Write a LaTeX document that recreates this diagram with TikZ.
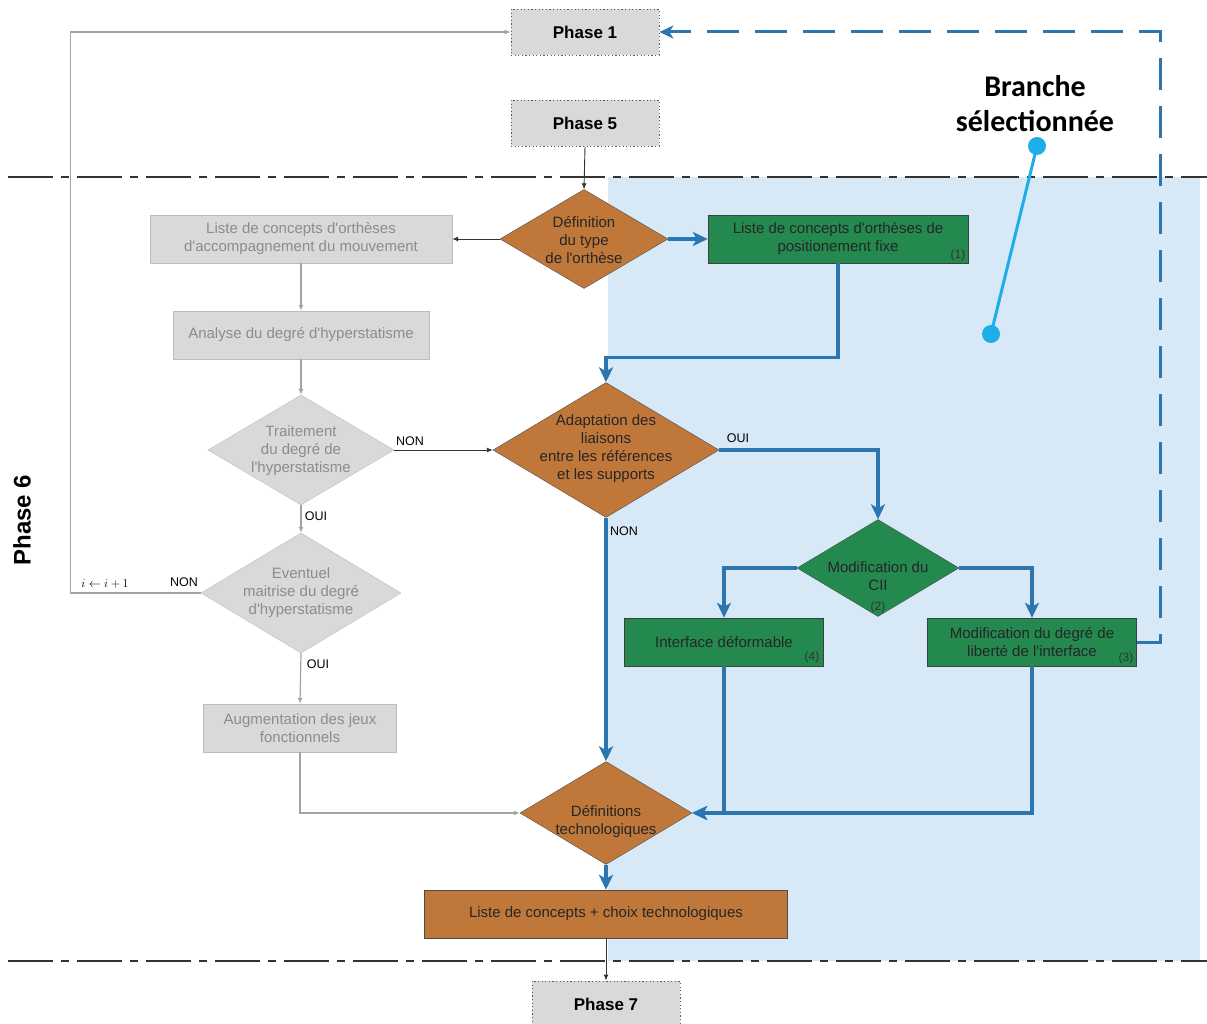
\documentclass[tikz,border=0pt]{standalone}
\usepackage{fontspec}
\setmainfont{Liberation Sans}
\newfontfamily\brfont{Carlito}
\usetikzlibrary{shapes.geometric,arrows.meta}

\definecolor{phasegray}{HTML}{D9D9D9}
\definecolor{oldfill}{HTML}{D9D9D9}
\definecolor{olddraw}{HTML}{BDBDBD}
\definecolor{oldtext}{HTML}{8C8C8C}
\definecolor{oldlink}{HTML}{A3A3A3}
\definecolor{brownfill}{HTML}{C0783A}
\definecolor{greenfill}{HTML}{23894F}
\definecolor{linkblue}{HTML}{2B75B0}
\definecolor{zoneblue}{HTML}{D7E8F7}
\definecolor{pointblue}{HTML}{1DAEE8}

\newcommand{\ap}{\textquotesingle}

\tikzset{
  phasebox/.style={draw=black!65, line width=0.8, dash pattern=on 1.2 off 2.4, fill=phasegray, minimum width=148,
    minimum height=46, inner sep=0, font=\fontsize{17}{20}\selectfont\bfseries},
  oldbox/.style={draw=olddraw, fill=oldfill, text=oldtext, align=center, minimum height=48,
    inner sep=0, font=\fontsize{15}{18}\selectfont},
  oldtest/.style={diamond, draw=olddraw, fill=oldfill, inner sep=0},
  greenbox/.style={draw=black!75, fill=greenfill, text=black!85, align=center, minimum height=48,
    inner sep=0, font=\fontsize{15}{18}\selectfont},
  browntest/.style={diamond, draw=black!70, fill=brownfill, inner sep=0},
  greentest/.style={diamond, draw=black!70, fill=greenfill, inner sep=0},
  testtext/.style={align=center, inner sep=0, font=\fontsize{15}{18}\selectfont},
  num/.style={inner sep=0, text=black!80, font=\fontsize{12}{14}\selectfont},
  choice/.style={inner sep=0, font=\fontsize{12.5}{14}\selectfont},
  oldlinkst/.style={draw=oldlink, line width=1.2, -{Latex[length=6,width=5]}},
  thinlink/.style={draw=black!80, line width=0.9, -{Latex[length=6,width=5]}},
  bluelink/.style={draw=linkblue, line width=3.2, -{Stealth[length=15,width=14,inset=4]}},
  phaseline/.style={draw=black!80, line width=1.5, dash pattern=on 45 off 8 on 8 off 8},
}

\begin{document}
\begin{tikzpicture}[x=1pt, y=-1pt]
    \useasboundingbox (0,0) rectangle (1207,1024);

    % Selected zone and limits of phase 6
    \fill[zoneblue] (608,177) rectangle (1200,961);
    \draw[phaseline] (8,177) -- (1207,177);
    \draw[phaseline] (8,961) -- (1207,961);
    \node[rotate=90, font=\fontsize{24}{28}\selectfont\bfseries] (phase6) at (22,520) {Phase 6};

    % Phases around
    \node[phasebox] (phase1) at (585,32) {Phase 1};
    \node[phasebox] (phase5) at (585,123) {Phase 5};
    \node[phasebox] (phase7) at (606,1004) {Phase 7};

    % Left branch (not selected)
    \node[oldbox, minimum width=302] (accomp) at (301,239) {Liste de concepts d\ap orthèses\\d\ap accompagnement du mouvement};
    \node[oldbox, minimum width=256] (analyse) at (301,335) {Analyse du degré d\ap hyperstatisme};
    \node[oldtest, minimum width=186, minimum height=110] (trait) at (301,450) {};
    \node[testtext, text=oldtext] (trait-t) at (301,451) {Traitement\\du degré de\\l\ap hyperstatisme};
    \node[oldtest, minimum width=200, minimum height=120] (event) at (301,593) {};
    \node[testtext, text=oldtext] (event-t) at (301,593) {Eventuel\\maitrise du degré\\d\ap hyperstatisme};
    \node[oldbox, minimum width=193] (augm) at (300,728) {Augmentation des jeux\\fonctionnels};

    % Selected branch
    \node[browntest, minimum width=168, minimum height=99] (deftype) at (584,239) {};
    \node[testtext, text=black!85] (deftype-t) at (584,240) {Définition\\du type\\de l\ap orthèse};
    \node[greenbox, minimum width=260] (fixe) at (838,239) {Liste de concepts d\ap orthèses de\\positionement fixe};
    \node[num] (n1) at (958,255) {(1)};
    \node[browntest, minimum width=226, minimum height=135] (adapt) at (606,450) {};
    \node[testtext, text=black!85] (adapt-t) at (606,449) {Adaptation des\\liaisons\\entre les références\\et les supports};
    \node[greentest, minimum width=162, minimum height=97] (cii) at (878,568) {};
    \node[testtext, text=black!85] (cii-t) at (878,576) {Modification du\\CII};
    \node[num] (n2) at (878,607) {(2)};
    \node[greenbox, minimum width=199] (deform) at (724,642) {Interface déformable};
    \node[num] (n4) at (812,657) {(4)};
    \node[greenbox, minimum width=209] (ddl) at (1032,642) {Modification du degré de\\liberté de l\ap interface};
    \node[num] (n3) at (1126,658) {(3)};
    \node[browntest, minimum width=172, minimum height=103] (defs) at (606,813) {};
    \node[testtext, text=black!85] (defs-t) at (606,822) {Définitions\\technologiques};
    \node[draw=black!70, fill=brownfill, text=black!85, minimum width=363, minimum height=48, inner sep=0,
      font=\fontsize{15}{18}\selectfont] (choix) at (606,914) {Liste de concepts + choix technologiques};

    % Links of the left branch
    \draw[thinlink] (phase5.south) -- (deftype.north);
    \draw[thinlink] (deftype.west) -- (accomp.east);
    \draw[oldlinkst] (accomp.south) -- (analyse.north);
    \draw[oldlinkst] (analyse.south) -- (trait.north);
    \draw[thinlink] (trait.east) -- (adapt.west);
    \draw[oldlinkst] (trait.south) -- (event.north);
    \draw[oldlinkst] (event.west) -- ++(-130,0) |- (phase1.west);
    \draw[oldlinkst] (event.south) -- (augm.north);
    \draw[oldlinkst] (augm.south) |- (defs.west);
    \node[choice] (non1) at (410,441) {NON};
    \node[choice] (oui1) at (316,516) {OUI};
    \node[choice] (non2) at (184,582) {NON};
    \node[inner sep=0, font=\fontsize{12}{14}\selectfont] (incr) at (105,584) {$i\leftarrow i+1$};
    \node[choice] (oui2) at (318,664) {OUI};

    % Links of the selected branch
    \draw[bluelink] (deftype.east) -- (fixe.west);
    \draw[bluelink] (fixe.south) -- ++(0,94) -| (adapt.north);
    \draw[bluelink] (adapt.east) -| (cii.north);
    \draw[bluelink] (adapt.south) -- (defs.north);
    \draw[bluelink] (cii.west) -| (deform.north);
    \draw[bluelink] (cii.east) -| (ddl.north);
    \draw[bluelink] (deform.south) |- (defs.east);
    \draw[bluelink] (ddl.south) |- (defs.east);
    \draw[bluelink] (defs.south) -- (choix.north);
    \draw[thinlink] (choix.south) -- (phase7.north);
    \node[choice] (oui3) at (738,438) {OUI};
    \node[choice] (non3) at (624,531) {NON};

    % Return to phase 1
    \draw[draw=linkblue, line width=3, dash pattern=on 32 off 16, -{Stealth[length=14,width=13,inset=4]}]
        (ddl.east) -- ++(24,0) |- (phase1.east);

    % Callout
    \node[font=\brfont\bfseries\fontsize{30}{35}\selectfont, align=center, inner sep=0] (branche) at (1035,104) {Branche\\sélectionnée};
    \coordinate (ptA) at (1037,146);
    \coordinate (ptB) at (991,334);
    \draw[pointblue, line width=3] (ptA) -- (ptB);
    \fill[pointblue] (ptA) circle (9);
    \fill[pointblue] (ptB) circle (9);
\end{tikzpicture}
\end{document}
